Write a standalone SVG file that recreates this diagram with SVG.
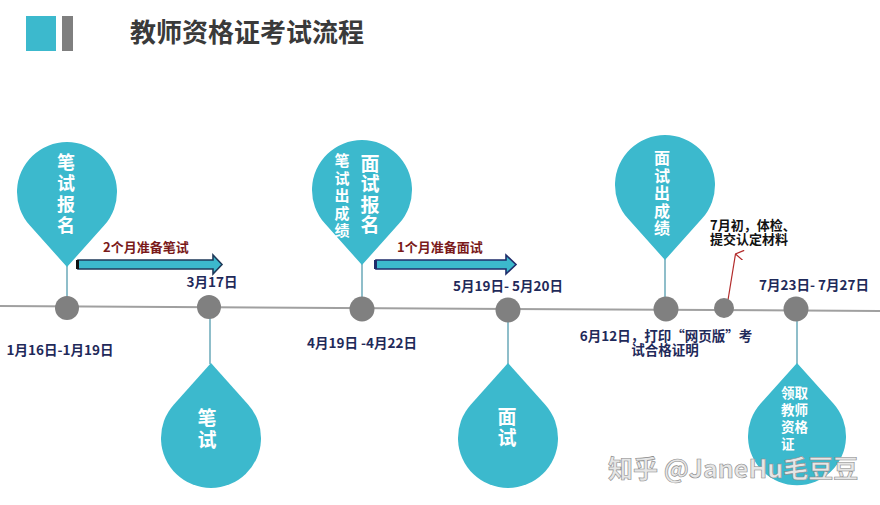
<svg xmlns="http://www.w3.org/2000/svg" width="880" height="505" viewBox="0 0 880 505">
<defs>
<style>
text{font-family:"Noto Sans CJK SC","Liberation Sans",sans-serif;font-weight:bold}
.pin{fill:#3cb9cd}
.dot{fill:#808080}
.stem{stroke:#6aa9b8;stroke-width:1.5;fill:none}
.pt{fill:#fff;text-anchor:middle}
.vt{fill:#fff;text-anchor:middle;writing-mode:vertical-rl}
.date{fill:#1f2a5a;font-size:13.5px;text-anchor:middle}
.lab{fill:#7a1a1a;font-size:13px}
.arr{fill:#3cb9cd;stroke-width:1.6}
</style>
<marker id="redhead" markerWidth="10" markerHeight="10" refX="5" refY="1" orient="auto" markerUnits="userSpaceOnUse" viewBox="0 0 10 10">
<path d="M0,9 L5,1 L10,9" fill="none" stroke="#b22a2a" stroke-width="1.2"/>
</marker>
</defs>
<rect width="880" height="505" fill="#fff"/>
<g id="title">
<rect x="26" y="16" width="30" height="35" fill="#3cb9cd"/>
<rect x="62" y="16" width="11" height="35" fill="#7f7f7f"/>
<text x="130" y="42" font-size="26" fill="#3a3a3a">教师资格证考试流程</text>
</g>
<g id="connectors">
<line x1="0" y1="306" x2="880" y2="311" stroke="#a0a0a0" stroke-width="2"/>
<line class="stem" x1="67" y1="266" x2="67" y2="297"/>
<line class="stem" x1="362" y1="264" x2="362" y2="298"/>
<line class="stem" x1="665" y1="259" x2="665" y2="298"/>
<line class="stem" x1="210" y1="318" x2="210" y2="364"/>
<line class="stem" x1="508" y1="321" x2="508" y2="364"/>
<line class="stem" x1="797" y1="320" x2="797" y2="364"/>
<g id="arrow1">
<path class="arr" stroke="#1f3a5a" d="M78,260 H213 V255 L222,264.5 L213,274 V269 H78 Z"/>
<rect x="76" y="260" width="3" height="9" fill="#111"/>
</g>
<g id="arrow2">
<path class="arr" stroke="#1f2d6b" d="M376,260 H506 V255 L516,264.5 L506,274 V269 H376 Z"/>
<rect x="374" y="260" width="3" height="9" fill="#1f2d6b"/>
</g>
<line x1="728" y1="300" x2="735.5" y2="254" stroke="#b22a2a" stroke-width="1.2" marker-end="url(#redhead)"/>
</g>
<g id="dots">
<circle class="dot" cx="67" cy="308" r="12"/>
<circle class="dot" cx="209" cy="307" r="12"/>
<circle class="dot" cx="362" cy="309" r="12.5"/>
<circle class="dot" cx="508" cy="310" r="12.5"/>
<circle class="dot" cx="666" cy="309" r="12.5"/>
<circle class="dot" cx="724" cy="308" r="10"/>
<circle class="dot" cx="796" cy="309" r="12.5"/>
</g>
<g id="pin1">
<path class="pin" d="M67,267 L29.7,225.3 A50,50 0 1,1 104.3,225.3 Z"/>
<text class="vt" x="66" y="195" font-size="18" letter-spacing="3">笔试报名</text>
</g>
<g id="pin3">
<path class="pin" d="M362,265 L324.7,223.3 A50,50 0 1,1 399.3,223.3 Z"/>
<text class="vt" x="342" y="197" font-size="15" letter-spacing="2.5">笔试出成绩</text>
<text class="vt" x="370" y="195" font-size="19" letter-spacing="1.5">面试报名</text>
</g>
<g id="pin5">
<path class="pin" d="M665,260 L627.7,218.3 A50,50 0 1,1 702.3,218.3 Z"/>
<text class="vt" x="662" y="194" font-size="16" font-weight="normal" letter-spacing="1.5">面试出成绩</text>
</g>
<g id="pin2">
<path class="pin" d="M211,363 L248.3,404.7 A50,50 0 1,1 173.7,404.7 Z"/>
<text class="vt" x="207" y="430" font-size="19" letter-spacing="2.5">笔试</text>
</g>
<g id="pin4">
<path class="pin" d="M508,363 L545.3,404.7 A50,50 0 1,1 470.7,404.7 Z"/>
<text class="vt" x="507" y="428" font-size="19" letter-spacing="2">面试</text>
</g>
<g id="pin7">
<path class="pin" d="M797,363 L833.6,403.7 A49,49 0 1,1 760.4,403.7 Z"/>
<text fill="#fff" font-size="13.5"><tspan x="781" y="398">领取</tspan><tspan x="781" y="415">教师</tspan><tspan x="781" y="432">资格</tspan><tspan x="781" y="449">证</tspan></text>
</g>
<g id="labels">
<text class="lab" x="103" y="252">2个月准备笔试</text>
<text class="lab" x="397" y="252">1个月准备面试</text>
<text class="date" x="212" y="287">3月17日</text>
<text class="date" x="60" y="355">1月16日-1月19日</text>
<text class="date" x="362" y="348">4月19日 -4月22日</text>
<text class="date" x="508" y="291">5月19日- 5月20日</text>
<text class="date" x="666" y="341" font-size="13">6月12日，打印“网页版”考</text>
<text class="date" x="665" y="355" font-size="13">试合格证明</text>
<text class="date" x="814" y="290">7月23日- 7月27日</text>
<text fill="#111" font-size="13"><tspan x="710" y="230">7月初，体检、</tspan><tspan x="710" y="244">提交认定材料</tspan></text>
</g>
<text x="608" y="478" font-size="25" font-weight="normal" fill="#e6e6e6" stroke="#8a8a8a" stroke-width="0.6">知乎 @JaneHu毛豆豆</text>
</svg>
